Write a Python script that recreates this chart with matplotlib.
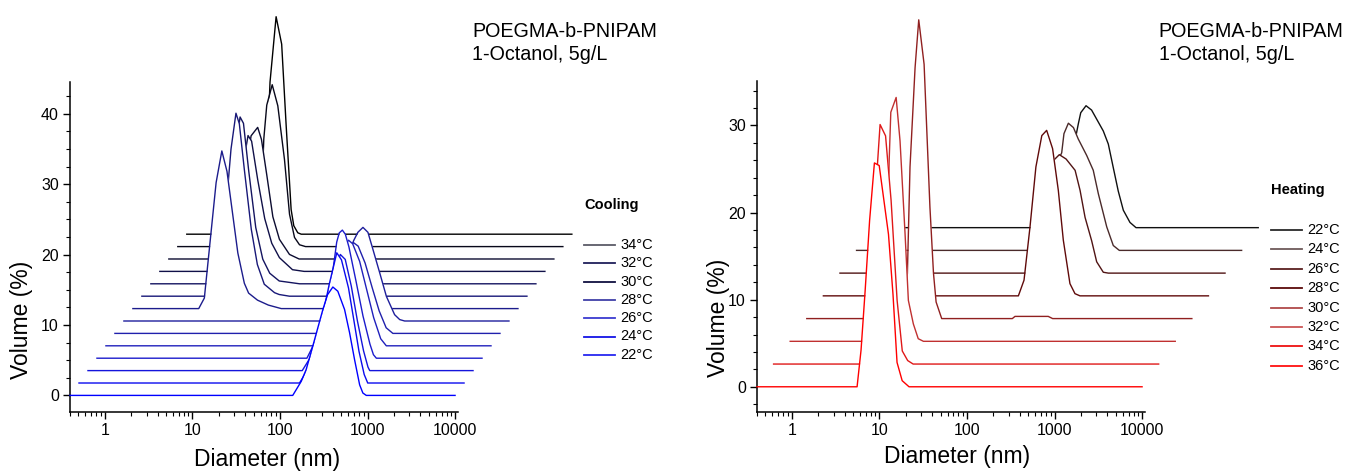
"""DLS volume distributions, waterfall view: cooling (left) and heating (right)."""
import matplotlib
matplotlib.use('Agg')
import matplotlib.pyplot as plt
from matplotlib.lines import Line2D
from matplotlib.ticker import FixedLocator, FixedFormatter, LogLocator, NullFormatter, MultipleLocator
import numpy as np

plt.rcParams['font.family'] = ['Liberation Sans', 'DejaVu Sans']

D_MIN, D_MAX = 0.4, 10000

# --- Cooling: curve 0 is the front one (22 °C), curve 13 the back one (34 °C) ---
cool_d = [
    [140, 175, 199.5, 237, 309, 349, 402, 458, 547, 624, 711, 813, 885, 968],
    [132, 166, 191, 229, 288, 352, 398, 479, 550, 631, 724, 794],
    [112, 141, 166, 200, 251, 305, 347, 407, 479, 562, 631, 661],
    [100, 126, 158, 191, 219, 234, 254, 275, 302, 363, 437, 525, 575, 621],
    [95.5, 120, 151, 186, 214, 236, 263, 316, 380, 457, 550, 637],
    [89, 112, 141, 174, 195, 212, 240, 288, 347, 417, 501, 598],
    [89, 112, 135, 155, 168, 188, 215, 245, 279, 333, 398, 494, 565, 644],
    [2.26, 2.62, 3.57, 4.15, 4.75, 6.32, 7.50, 8.39, 10.6, 14.1, 19.8],
    [2.69, 3.49, 4.17, 4.75, 5.19, 5.92, 7.11, 8.34, 10.0, 13.1, 14.8, 19.4],
    [2.51, 3.16, 3.63, 4.18, 4.57, 5.25, 6.31, 7.59, 9.12, 11.7, 20.0],
    [2.51, 3.02, 3.55, 4.07, 4.47, 5.25, 6.31, 7.59, 9.29, 13.1, 17.8],
    [2.51, 2.88, 3.16, 3.48, 4.14, 4.57, 5.25, 6.17, 7.33, 9.55, 12.3],
    [3.33, 3.61, 3.84, 4.15, 4.79, 5.55, 6.61, 7.55, 8.61, 9.82, 11.5],
    [2.88, 3.16, 3.57, 4.19, 4.85, 5.46, 6.22, 6.67, 7.41, 8.11],
]
cool_v = [
    [0, 2.0, 3.7, 7.0, 12.2, 14.3, 15.4, 14.8, 12.2, 8.9, 5.1, 1.5, 0.34, 0],
    [0, 2.0, 4.0, 8.0, 14.0, 18.5, 17.5, 13.5, 9.0, 4.5, 1.2, 0],
    [0, 2.0, 4.5, 8.5, 13.5, 16.5, 15.8, 12.0, 7.0, 2.8, 0.5, 0],
    [0, 2.5, 6.5, 11.0, 16.5, 17.8, 18.2, 17.6, 15.8, 11.0, 6.0, 2.0, 0.5, 0],
    [0, 2.5, 6.5, 11.5, 14.3, 15.0, 14.5, 12.0, 8.0, 4.0, 1.0, 0],
    [0, 2.2, 6.0, 10.5, 12.3, 12.9, 12.4, 10.0, 6.5, 3.2, 0.8, 0],
    [0, 2.5, 6.5, 10.2, 11.4, 12.6, 13.3, 12.6, 10.2, 6.9, 3.5, 0.9, 0.2, 0],
    [0, 1.5, 17.9, 22.4, 19.5, 7.9, 3.6, 2.2, 1.2, 0.5, 0],
    [0, 9.5, 20.9, 26.0, 24.5, 18.0, 9.5, 4.5, 1.7, 0.5, 0.24, 0],
    [0, 8.0, 18.0, 23.7, 22.8, 16.0, 8.0, 3.5, 1.5, 0.4, 0],
    [0, 6.0, 15.0, 19.3, 18.5, 13.0, 7.5, 4.0, 1.95, 0.24, 0],
    [0, 7.0, 14.0, 17.5, 18.7, 17.0, 12.0, 6.0, 2.8, 0.65, 0],
    [0, 6.7, 15.3, 20.1, 23.0, 20.0, 12.4, 4.6, 1.3, 0.26, 0],
    [0, 5.0, 21.6, 30.9, 27.0, 15.4, 3.5, 1.2, 0.2, 0],
]
cool_colors = ['#0000ff', '#0a0aee', '#1414dc', '#1c1ccc', '#2020bc', '#2020ac', '#1e1e9c',
               '#1c1c8c', '#181878', '#141460', '#101048', '#0c0c30', '#08081a', '#000000']
cool_labels = ['34°C', '32°C', '30°C', '28°C', '26°C', '24°C', '22°C']
cool_label_colors = ['#5c5c68', '#20205a', '#101040', '#4040a8', '#3c3cd0', '#1414e6', '#2828f0']

# --- Heating: curve 0 is the front one (36 °C), curve 7 the back one (22 °C) ---
heat_d = [
    [5.56, 6.17, 6.87, 7.73, 8.77, 9.95, 12.7, 14.3, 15.9, 18.2, 21.8],
    [4.56, 5.20, 5.77, 6.58, 7.60, 8.79, 10.3, 11.8, 13.6, 15.7],
    [4.73, 5.12, 5.40, 5.64, 6.49, 7.19, 8.20, 8.95, 10.2, 11.6, 13.3],
    [5.04, 5.64, 6.04, 6.90, 7.60, 8.75, 10.2, 11.2, 12.0, 13.9, 89, 95.5, 229, 257],
    [67.5, 78.3, 91.6, 107, 125, 142, 166, 193, 220, 262, 299, 341],
    [59.4, 88.1, 109, 128, 153, 194, 221, 252, 300, 342, 407, 465],
    [50.1, 68.2, 80.0, 88.1, 93.5, 105, 120, 136, 170, 202, 231, 288, 342, 401],
    [47.9, 67.3, 80.9, 88.1, 94.0, 108, 125, 170, 194, 221, 252, 288, 343, 402],
]
heat_v = [
    [0, 4.2, 11.0, 19.1, 25.7, 25.4, 17.5, 10.6, 2.8, 0.7, 0],
    [0, 7.3, 18.8, 27.5, 26.2, 18.8, 7.3, 1.5, 0.4, 0],
    [0, 10.4, 20.7, 26.3, 28.0, 23.0, 12.4, 4.7, 2.0, 0.3, 0],
    [0, 5.2, 17.4, 28.8, 34.3, 29.2, 12.8, 5.2, 1.9, 0, 0, 0.25, 0.25, 0],
    [0, 1.8, 7.9, 14.8, 18.4, 19.0, 16.9, 12.1, 6.4, 1.4, 0.25, 0],
    [0, 8.3, 12.9, 13.6, 13.1, 11.8, 9.5, 6.4, 3.7, 1.3, 0.1, 0],
    [0, 6.9, 10.3, 11.2, 13.4, 14.6, 14.1, 12.8, 10.9, 9.2, 6.5, 2.7, 0.56, 0],
    [0, 5.4, 10.0, 11.9, 13.2, 14.0, 13.5, 11.1, 9.6, 6.9, 4.2, 2.0, 0.6, 0],
]
heat_colors = ['#ff0000', '#e01818', '#c03030', '#902020', '#600a0a', '#501414', '#4a2a2a', '#101010']
heat_labels = ['22°C', '24°C', '26°C', '28°C', '30°C', '32°C', '34°C', '36°C']
heat_label_colors = ['#2a2a2a', '#6e5a5a', '#5a2020', '#5a0a0a', '#b04a4a', '#cc5555', '#ee1111', '#ff1010']


def waterfall(ax, ds, vs, colors, dx_dec, dy):
    n = len(ds)
    for i in range(n - 1, -1, -1):  # back to front
        shift = 10 ** (dx_dec * i)
        x = np.array([D_MIN] + ds[i] + [D_MAX]) * shift
        y = np.array([0] + vs[i] + [0]) + dy * i
        z = 3 + (n - i) * 0.1
        ax.fill_between(x, y, dy * i, color='white', lw=0, zorder=z, clip_on=False)
        ax.plot(x, y, color=colors[i], lw=1.0, zorder=z + 0.05, clip_on=False)


def style(ax, ylim, yminor, ylab_xy, xlab_xy):
    ax.set_xscale('log')
    ax.set_xlim(0.4, 10800)
    ax.set_ylim(*ylim)
    for s in ('top', 'right'):
        ax.spines[s].set_visible(False)
    for s in ('left', 'bottom'):
        ax.spines[s].set_linewidth(1.1)
    ax.xaxis.set_major_locator(FixedLocator([1, 10, 100, 1000, 10000]))
    ax.xaxis.set_major_formatter(FixedFormatter(['1', '10', '100', '1000', '10000']))
    ax.xaxis.set_minor_locator(LogLocator(base=10, subs=np.arange(2, 10), numticks=30))
    ax.xaxis.set_minor_formatter(NullFormatter())
    ax.yaxis.set_major_locator(MultipleLocator(10))
    ax.yaxis.set_minor_locator(MultipleLocator(yminor))
    ax.tick_params(which='major', direction='out', length=5, width=1.0, labelsize=11.5, pad=3)
    ax.tick_params(which='minor', direction='out', length=3, width=0.8)
    ax.set_ylabel('Volume (%)', fontsize=16.5, va='center')
    ax.yaxis.set_label_coords(*ylab_xy)
    ax.set_xlabel('Diameter (nm)', fontsize=16.5, va='center')
    ax.xaxis.set_label_coords(*xlab_xy)


W, H = 1347, 471
fig = plt.figure(figsize=(W / 100, H / 100), dpi=100)
ax1 = fig.add_axes([70 / W, 1 - 412.3 / H, 388 / W, 330.8 / H])
ax2 = fig.add_axes([757 / W, 1 - 412.3 / H, 388 / W, 330.8 / H])

waterfall(ax1, cool_d, cool_v, cool_colors, 0.1026, 1.762)
waterfall(ax2, heat_d, heat_v, heat_colors, 0.1895, 2.61)

style(ax1, (-2.4, 44.6), 2.5, (-0.125, 0.279), (0.509, -0.144))
style(ax2, (-2.93, 35.05), 2, (-0.098, 0.285), (0.515, -0.134))

# sample description
for x0 in (472, 1158.7):
    fig.text(x0 / W, 1 - 36.7 / H, 'POEGMA-b-PNIPAM', fontsize=14.2, va='baseline')
    fig.text(x0 / W, 1 - 60 / H, '1-Octanol, 5g/L', fontsize=14.2, va='baseline')


def legend(title, x0, ty, y0, step, labels, colors):
    fig.text(x0 / W, 1 - ty / H, title, fontsize=10.5, fontweight='bold', va='center')
    for k, (lab, c) in enumerate(zip(labels, colors)):
        yy = 1 - (y0 + step * k) / H
        fig.add_artist(Line2D([x0 / W, (x0 + 31) / W], [yy, yy], color=c, lw=1.3))
        fig.text((x0 + 36) / W, yy, lab, fontsize=10.5, va='center')


legend('Cooling', 584, 205, 245, 18.3, cool_labels, cool_label_colors)
legend('Heating', 1271, 190, 230, 19.4, heat_labels, heat_label_colors)

fig.savefig('out.png', dpi=100)
